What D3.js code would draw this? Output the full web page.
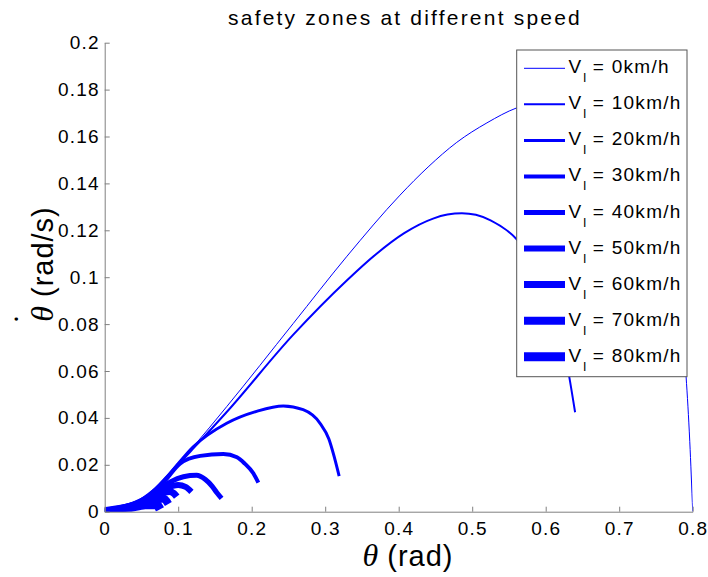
<!DOCTYPE html>
<html><head><meta charset="utf-8">
<script src="https://cdn.jsdelivr.net/npm/d3@7"></script>
<style>
body{margin:0;background:#fff;}
text{font-family:"Liberation Sans",Arial,sans-serif;}
</style></head>
<body><svg id="chart" width="708" height="577"></svg>
<script>
// ---- data ----
const speeds = [0,10,20,30,40,50,60,70,80];
const legendLabels = speeds.map(v => " = " + v + "km/h");
const lineWidths = [1,2,3,4,5,6,7,8,9];
const xTicks = [0,0.1,0.2,0.3,0.4,0.5,0.6,0.7,0.8];
const yTicks = [0,0.02,0.04,0.06,0.08,0.1,0.12,0.14,0.16,0.18,0.2];
const v0  = [[0,0],[0.02,0.001],[0.04,0.0032],[0.06,0.0072],[0.0888,0.0164],[0.12,0.0275],[0.166,0.0448],[0.2566,0.0803],[0.329,0.1087],[0.4018,0.135],[0.44,0.147],[0.479,0.1575],[0.52,0.1658],[0.5605,0.1722],[0.6,0.1752],[0.65,0.172],[0.7,0.158],[0.74,0.135],[0.77,0.105],[0.785,0.08],[0.791,0.0576],[0.796,0.03],[0.8,0]];
const v10 = [[0,0],[0.02,0.001],[0.04,0.0032],[0.06,0.0072],[0.0888,0.0164],[0.12,0.0268],[0.166,0.0425],[0.2566,0.0755],[0.329,0.0985],[0.3683,0.1096],[0.4075,0.1188],[0.4468,0.125],[0.4663,0.1267],[0.486,0.1273],[0.505,0.1266],[0.525,0.1242],[0.5605,0.1162],[0.59,0.103],[0.61,0.088],[0.622,0.074],[0.632,0.0576],[0.640,0.0424]];
const v20 = [[0,0],[0.02,0.001],[0.04,0.0032],[0.06,0.0072],[0.085,0.015],[0.1205,0.0277],[0.166,0.0377],[0.2068,0.0428],[0.243,0.0451],[0.27,0.0435],[0.293,0.0377],[0.305,0.031],[0.311,0.0249],[0.319,0.0152]];
const v30 = [[0,0],[0.02,0.001],[0.04,0.0032],[0.06,0.0072],[0.08,0.0125],[0.1024,0.0205],[0.13,0.0238],[0.1614,0.0246],[0.18,0.0232],[0.1906,0.0205],[0.2022,0.0164],[0.209,0.0124]];
const v40 = [[0,0],[0.02,0.001],[0.04,0.003],[0.07,0.0082],[0.09,0.0128],[0.107,0.0149],[0.125,0.0155],[0.137,0.0137],[0.1463,0.0108],[0.1524,0.0082],[0.159,0.0057]];
const v50 = [[0,0],[0.02,0.001],[0.05,0.0042],[0.08,0.0095],[0.1,0.0114],[0.11,0.0106],[0.118,0.0085]];
const v60 = [[0,0],[0.02,0.001],[0.04,0.003],[0.07,0.0072],[0.088,0.0086],[0.094,0.0078],[0.098,0.0064]];
const v70 = [[0,0],[0.02,0.001],[0.04,0.0026],[0.065,0.0052],[0.08,0.0056],[0.0866,0.0033]];
const v80 = [[0,0],[0.02,0.001],[0.035,0.0018],[0.055,0.003],[0.07,0.0031],[0.0752,0.001]];
const series = [v0,v10,v20,v30,v40,v50,v60,v70,v80];

// ---- layout ----
const svg = d3.select("#chart");
const L = 104.7, R = 692.7, T = 42.7, B = 511.7;
const x = d3.scaleLinear().domain([0,0.8]).range([L,R]);
const y = d3.scaleLinear().domain([0,0.2]).range([B,T]);
const blue = "#0000ff", axisCol = "#808080";

svg.append("defs").append("clipPath").attr("id","plotclip")
  .append("rect").attr("x",L).attr("y",T).attr("width",R-L).attr("height",B-T);

const line = d3.line().x(d=>x(d[0])).y(d=>y(d[1])).curve(d3.curveMonotoneX);
const gLines = svg.append("g").attr("clip-path","url(#plotclip)");
series.forEach((s,i)=>{
  gLines.append("path").attr("d",line(s)).attr("fill","none")
    .attr("stroke",blue).attr("stroke-width",lineWidths[i])
    .attr("stroke-linejoin","round").attr("stroke-linecap","butt");
});

// axes
const fmt = d => d===0 ? "0" : String(+d.toFixed(2));
const xAxis = svg.append("g").attr("transform",`translate(0,${B})`)
  .call(d3.axisBottom(x).tickValues(xTicks).tickFormat(fmt).tickSize(-5).tickSizeOuter(0).tickPadding(10));
const yAxis = svg.append("g").attr("transform",`translate(${L},0)`)
  .call(d3.axisLeft(y).tickValues(yTicks).tickFormat(fmt).tickSize(-5).tickSizeOuter(0).tickPadding(5));
[xAxis,yAxis].forEach(g=>{
  g.select(".domain").attr("stroke",axisCol);
  g.selectAll(".tick line").attr("stroke",axisCol);
  g.selectAll(".tick text").attr("fill","#000").style("font-size","19px").style("letter-spacing","1.2px")
   .style("font-family","'Liberation Sans',Arial,sans-serif");
});

// title
svg.append("text").attr("x",405).attr("y",25).attr("text-anchor","middle")
  .style("font-size","21px").style("letter-spacing","2.2px").attr("fill","#000")
  .text("safety zones at different speed");

// x label
const xl = svg.append("text").attr("x",408).attr("y",566).attr("text-anchor","middle").attr("fill","#000");
xl.append("tspan").style("font-family","'Liberation Serif','Times New Roman',serif").style("font-style","italic").style("font-size","32px").text("θ");
xl.append("tspan").style("font-size","29px").style("letter-spacing","1px").text(" (rad)");

// y label
const ylg = svg.append("g").attr("transform","translate(53,264) rotate(-90)");
const yl = ylg.append("text").attr("x",0).attr("y",0).attr("text-anchor","middle").attr("fill","#000");
yl.append("tspan").style("font-family","'Liberation Serif','Times New Roman',serif").style("font-style","italic").style("font-size","32px").text("θ");
yl.append("tspan").style("font-size","29px").style("letter-spacing","1px").text(" (rad/s)");
ylg.append("text").attr("x",-55).attr("y",-35).attr("text-anchor","middle").attr("fill","#000")
  .style("font-family","'Liberation Serif','Times New Roman',serif").style("font-weight","bold").style("font-size","20px").text(".");

// legend
const lg = svg.append("g");
lg.append("rect").attr("x",516.7).attr("y",50).attr("width",170.3).attr("height",326.7)
  .attr("fill","#fff").attr("stroke","#555").attr("stroke-width",1);
speeds.forEach((v,i)=>{
  const cy = 68.3 + i*36.05;
  lg.append("line").attr("x1",524).attr("x2",565).attr("y1",cy).attr("y2",cy)
    .attr("stroke",blue).attr("stroke-width",lineWidths[i]);
  const t = lg.append("text").attr("x",568.5).attr("y",cy+5).attr("fill","#000")
    .style("font-size","19px").style("white-space","pre");
  t.append("tspan").style("letter-spacing","1px").text("V");
  t.append("tspan").attr("dy",9).attr("dx",1).style("font-size","13px").attr("fill","#000").text("l");
  t.append("tspan").attr("dy",-9).style("letter-spacing","1.3px").text(legendLabels[i]);
});
</script></body></html>
